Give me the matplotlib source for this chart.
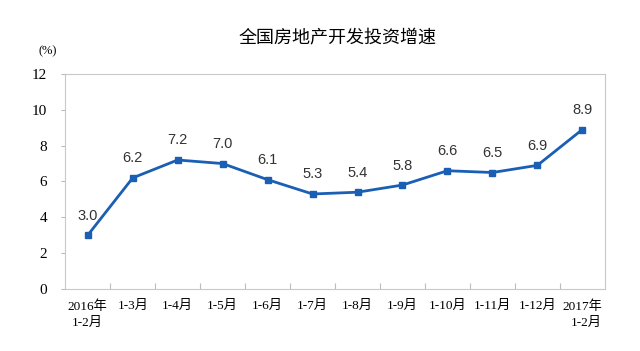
import matplotlib
matplotlib.use("Agg")
import matplotlib.pyplot as plt
import numpy as np

# data
categories = ['2016年\n1-2月', '1-3月', '1-4月', '1-5月', '1-6月', '1-7月', '1-8月',
              '1-9月', '1-10月', '1-11月', '1-12月', '2017年\n1-2月']
growth = [3.0, 6.2, 7.2, 7.0, 6.1, 5.3, 5.4, 5.8, 6.6, 6.5, 6.9, 8.9]
yticks = [0, 2, 4, 6, 8, 10, 12]

blue = '#1a5fb4'
tick_font = ['Liberation Serif', 'Noto Sans CJK SC']

fig = plt.figure(figsize=(6.4, 3.51), dpi=100)
ax = fig.add_axes([0.102, 0.177, 0.843, 0.612])

x = np.arange(len(growth))
ax.plot(x, growth, color=blue, lw=2, marker='s', ms=5, mfc=blue, mec=blue)
for xi, v in zip(x, growth):
    ax.annotate('%.1f' % v, (xi, v), xytext=(0, 9), textcoords='offset points',
                ha='center', va='bottom', fontsize=10.5, family='Liberation Sans',
                color='#333333')

ax.set_xlim(-0.5, len(growth) - 0.5)
ax.set_ylim(0, 12)
ax.set_yticks(yticks)
ax.set_yticklabels([str(t) for t in yticks], family=tick_font, fontsize=11)

# category separators as ticks on the x axis
ax.set_xticks(np.arange(0.5, len(growth) - 1, 1.0))
ax.set_xticklabels([])
ax.set_xticks(x, minor=True)
ax.set_xticklabels(categories, minor=True, family=tick_font, fontsize=9.5,
                   linespacing=1.5, va='top')
ax.tick_params(axis='x', which='major', direction='in', length=4, color='#bbbbbb')
ax.tick_params(axis='x', which='minor', length=0, pad=8)
ax.tick_params(axis='y', direction='out', length=3, color='#bbbbbb', pad=10)
for lab in ax.get_xticklabels(minor=True):
    if lab.get_text().startswith('2017'):
        lab.set_multialignment('right')
    elif lab.get_text().startswith('2016'):
        lab.set_multialignment('center')

for sp in ax.spines.values():
    sp.set_color('#c8c8c8')
    sp.set_linewidth(0.8)

fig.text(0.528, 0.89, '全国房地产开发投资增速', ha='center', va='center',
         fontsize=13, family='Noto Sans CJK SC')
fig.text(0.075, 0.855, '(%)', ha='center', va='center', fontsize=9, family=tick_font)

fig.savefig('out.png', dpi=100, facecolor='white')
